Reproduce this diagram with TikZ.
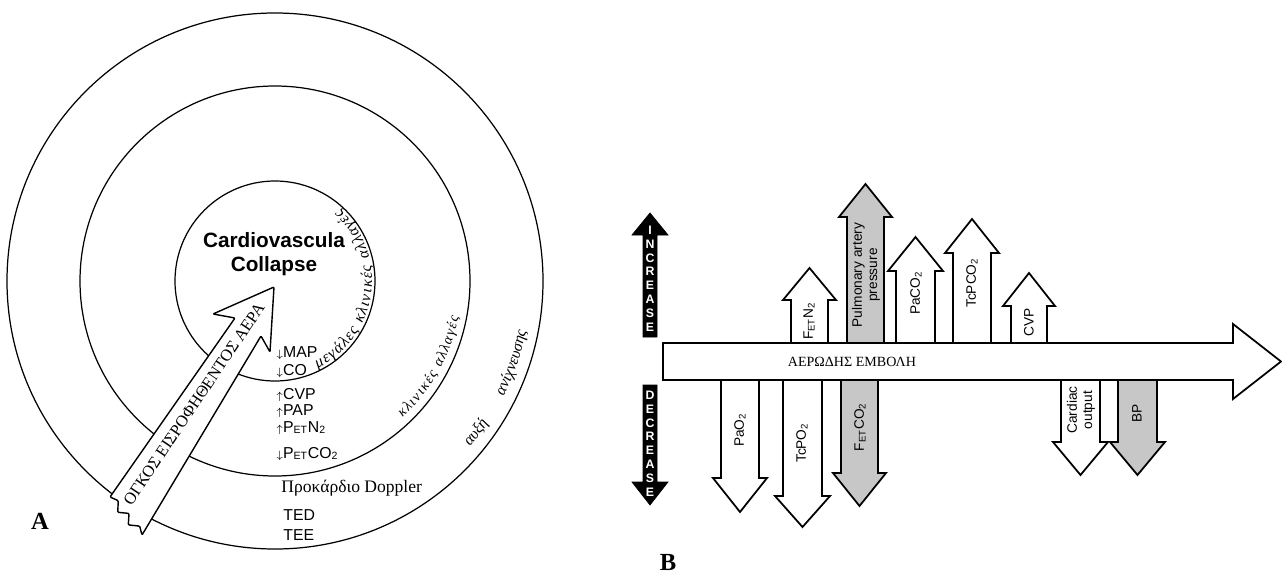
\documentclass[tikz,border=0pt]{standalone}
\usepackage{fontspec}
\setmainfont{Liberation Serif}
\setsansfont{Liberation Sans}
\usetikzlibrary{decorations.text}

\begin{document}
\begin{tikzpicture}[x=0.02cm,y=-0.02cm]
\useasboundingbox (0,0) rectangle (1282,578);

% centre of the rings (panel A)
\def\cx{275}
\def\cy{281}
% node style definition
\tikzstyle{ring} = [draw, line width=0.7pt];
\tikzstyle{arw} = [draw, fill=white, line width=1pt, line join=miter];
\tikzstyle{shaded} = [arw, fill=black!22];
\tikzstyle{lst} = [font=\sffamily\fontsize{9}{10}\selectfont, anchor=base west, inner sep=0pt];
\tikzstyle{vlab} = [font=\sffamily\fontsize{7.8}{8.6}\selectfont, rotate=90, align=center, inner sep=0pt];
\tikzstyle{wlet} = [font=\sffamily\bfseries\fontsize{7}{7}\selectfont, text=white, inner sep=0pt];
\tikzstyle{panel} = [font=\bfseries\fontsize{14}{14}\selectfont];
\tikzstyle{arctext} = [decorate, decoration={text along path, text align=fit to path}];
\tikzstyle{arcmid} = [decorate, decoration={text along path, text align=center}];
\def\dn{{\fontsize{6}{6}\selectfont$\downarrow$}}
\def\up{{\fontsize{6}{6}\selectfont$\uparrow$}}
% block arrows of panel B: style, left x, right x, head base, tip
\def\uparw#1#2#3#4#5{\draw[#1] (#2,343) -- (#2,#4) -- ++(-8,0) -- ({(#2+#3)/2},#5) -- ({#3+8},#4) -- (#3,#4) -- (#3,343) -- cycle;}
\def\dnarw#1#2#3#4#5{\draw[#1] (#2,380) -- (#2,#4) -- ++(-8,0) -- ({(#2+#3)/2},#5) -- ({#3+8},#4) -- (#3,#4) -- (#3,380) -- cycle;}

%% panel A
\draw[ring] (\cx,\cy) circle[radius=268];
\draw[ring] (\cx,\cy) circle[radius=195];
\draw[ring] (\cx,\cy) circle[radius=100];

% the air volume arrow
\draw[arw, line width=0.8pt, rounded corners=0.6pt] (110,497) -- (235,318) -- (213,314) -- (274,287)
  -- (270,352) -- (261,336) -- (142,535) -- (139.7,526.1) -- (128.3,524.9) -- (129,513.4)
  -- (117.7,512.3) -- (118.3,500.7) -- cycle;
\node[font=\fontsize{9.4}{10}\selectfont, rotate=56] (vol) at (194,404) {ΟΓΚΟΣ ΕΙΣΡΟΦΗΘΕΝΤΟΣ ΑΕΡΑ};

\node[font=\sffamily\bfseries\fontsize{11.8}{13.8}\selectfont, align=center] (cvc) at (274,254) {Cardiovascula\\Collapse};

\node[lst] (map) at (276,357) {\dn MAP};
\node[lst] (co) at (276,375) {\dn CO};
\node[lst] (cvp) at (276,399) {\up CVP};
\node[lst] (pap) at (276,415) {\up PAP};
\node[lst] (petn) at (276,432) {\up P\textsubscript{ET}N\textsubscript{2}};
\node[lst] (petc) at (276,458) {\dn P\textsubscript{ET}CO\textsubscript{2}};
\node[font=\fontsize{10}{11}\selectfont, anchor=base west, inner sep=0pt] (dop) at (281,492) {Προκάρδιο Doppler};
\node[lst] (ted) at (283,520) {TED};
\node[lst] (tee) at (283,540) {TEE};

% texts along the rings
\path[arctext, decoration={text={|\itshape\fontsize{9}{9}\selectfont|μεγάλες κλινικές αλλαγές}}]
  (\cx,\cy) ++(64:97) arc[start angle=64, end angle=-48, radius=97];
\path[arctext, decoration={text={|\itshape\fontsize{8.2}{9}\selectfont|κλινικές αλλαγές}}]
  (\cx,\cy) ++(47:187) arc[start angle=47, end angle=11, radius=187];
\path[arcmid, decoration={text={|\itshape\fontsize{9}{9}\selectfont|αυξή}}]
  (\cx,\cy) ++(42:256) arc[start angle=42, end angle=32, radius=256];
\path[arcmid, decoration={text={|\itshape\fontsize{9}{9}\selectfont|ανίχνευσης}}]
  (\cx,\cy) ++(29:256) arc[start angle=29, end angle=9, radius=256];

\node[panel] (la) at (40,521) {A};

%% panel B
% increase / decrease
\draw[fill=black] (643,337) -- (643,235) -- (632,235) -- (650,213) -- (668,235) -- (657,235) -- (657,337) -- cycle;
\draw[fill=black] (643,385) -- (643,482) -- (632,482) -- (650,505) -- (668,482) -- (657,482) -- (657,385) -- cycle;
\foreach \c [count=\i] in {I,N,C,R,E,A,S,E}
  \node[wlet] (inc\i) at (650,{230+13.9*(\i-1)}) {\c};
\foreach \c [count=\i] in {D,E,C,R,E,A,S,E}
  \node[wlet] (dec\i) at (650,{395+13.9*(\i-1)}) {\c};

% main arrow
\draw[arw] (663,343) -- (1233,343) -- (1233,324) -- (1281,361.5) -- (1233,399) -- (1233,380) -- (663,380) -- cycle;
\node[font=\fontsize{8}{9}\selectfont] (emb) at (852,362) {ΑΕΡΩΔΗΣ ΕΜΒΟΛΗ};

% increases
\uparw{arw}{791}{828}{300}{268}
\uparw{shaded}{847}{884}{217}{184}
\uparw{arw}{896}{935}{271}{237}
\uparw{arw}{953}{991}{253}{219}
\uparw{arw}{1011}{1047}{306}{273}
\node[vlab] (fetn) at (809,321) {F\textsubscript{ET}N\textsubscript{2}};
\node[vlab] (pulm) at (866,275) {Pulmonary artery\\pressure};
\node[vlab] (paco) at (916,293) {PaCO\textsubscript{2}};
\node[vlab] (tcpco) at (972,283) {TcPCO\textsubscript{2}};
\node[vlab] (cvpb) at (1029,322) {CVP};

% decreases
\dnarw{arw}{721}{759}{478}{512}
\dnarw{arw}{783}{822}{496}{527}
\dnarw{shaded}{841}{878}{473}{506}
\dnarw{arw}{1061}{1100}{442}{475}
\dnarw{shaded}{1118}{1157}{442}{475}
\node[vlab] (pao) at (740,430) {PaO\textsubscript{2}};
\node[vlab] (tcpo) at (802,443) {TcPO\textsubscript{2}};
\node[vlab] (fetc) at (860,427) {F\textsubscript{ET}CO\textsubscript{2}};
\node[vlab] (card) at (1081,410) {Cardiac\\output};
\node[vlab] (bp) at (1137,413) {BP};

\node[panel] (lb) at (668,562) {B};

\end{tikzpicture}
\end{document}
